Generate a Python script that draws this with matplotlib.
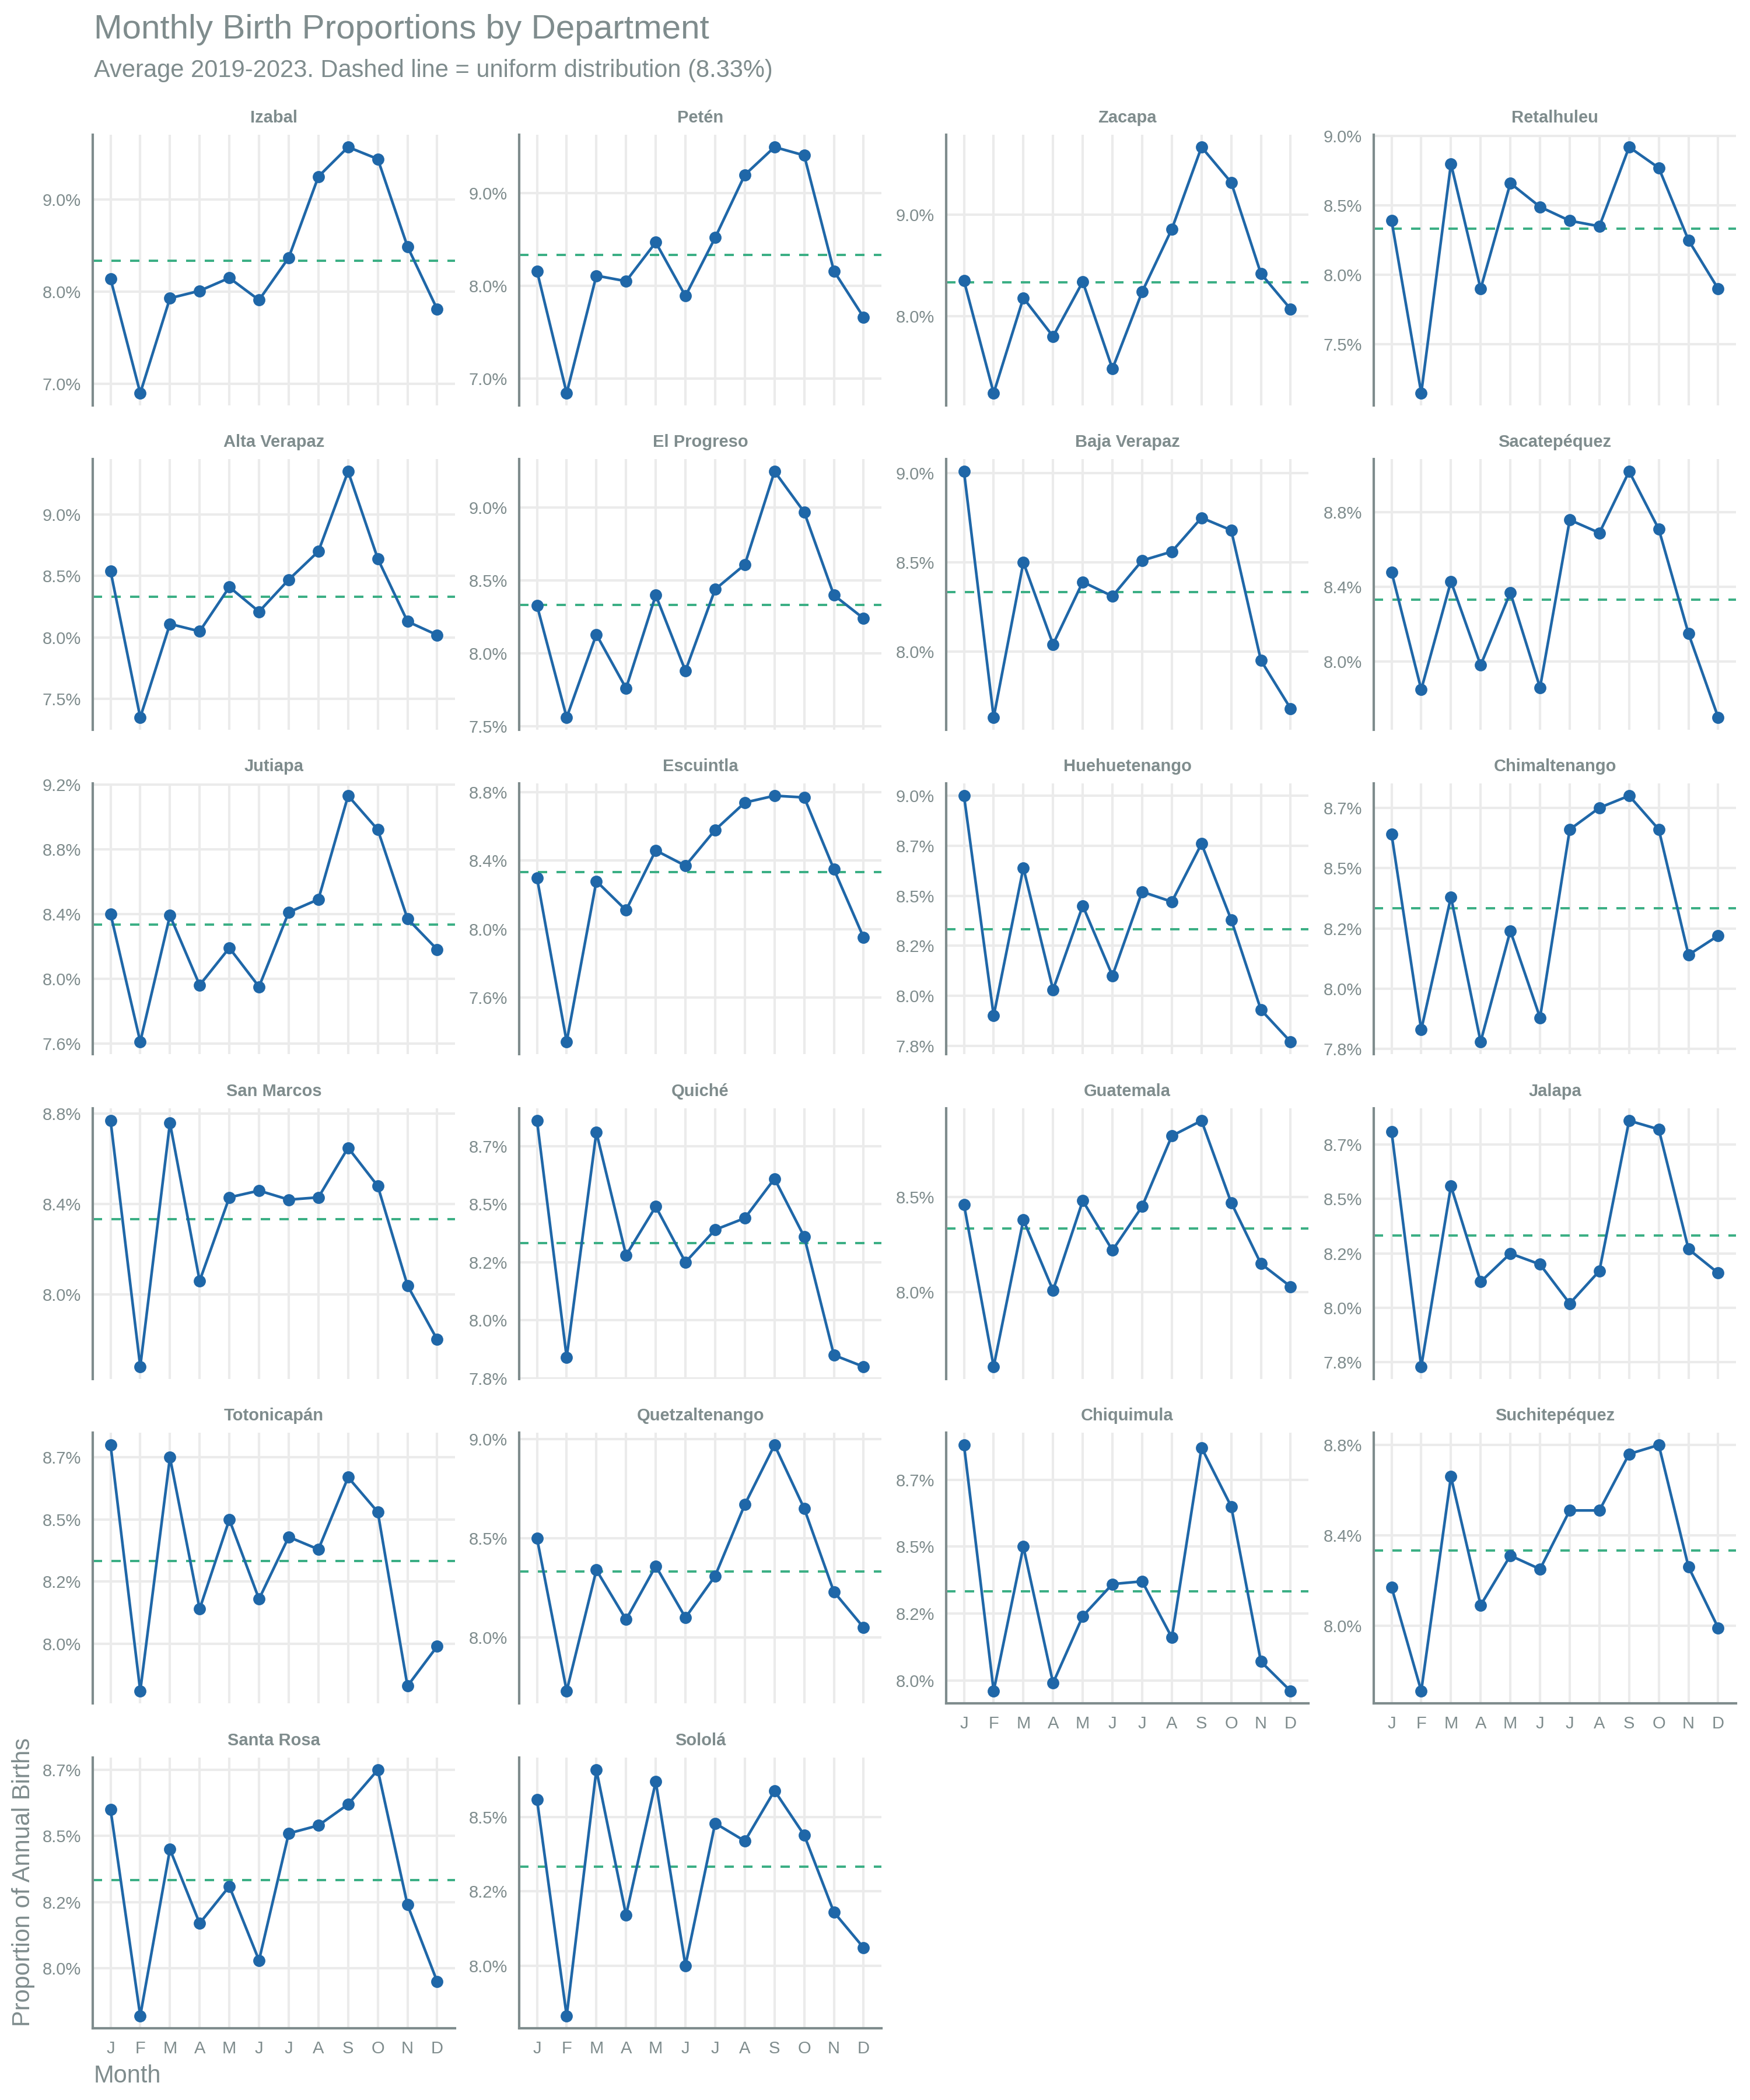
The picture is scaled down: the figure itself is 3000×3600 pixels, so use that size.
import matplotlib
matplotlib.use('Agg')
import matplotlib.pyplot as plt

plt.rcParams['font.family'] = ['Liberation Sans', 'DejaVu Sans']

months = ['J', 'F', 'M', 'A', 'M', 'J', 'J', 'A', 'S', 'O', 'N', 'D']

departments = ['Izabal', 'Petén', 'Zacapa', 'Retalhuleu',
               'Alta Verapaz', 'El Progreso', 'Baja Verapaz', 'Sacatepéquez',
               'Jutiapa', 'Escuintla', 'Huehuetenango', 'Chimaltenango',
               'San Marcos', 'Quiché', 'Guatemala', 'Jalapa',
               'Totonicapán', 'Quetzaltenango', 'Chiquimula', 'Suchitepéquez',
               'Santa Rosa', 'Sololá']

# monthly share of annual births (%), average 2019-2023
izabal = [8.14, 6.90, 7.93, 8.01, 8.15, 7.91, 8.37, 9.25, 9.57, 9.44, 8.49, 7.81]
peten = [8.16, 6.84, 8.11, 8.05, 8.47, 7.89, 8.52, 9.20, 9.50, 9.41, 8.16, 7.66]
zacapa = [8.35, 7.24, 8.18, 7.80, 8.34, 7.48, 8.24, 8.86, 9.67, 9.32, 8.42, 8.07]
retalhuleu = [8.39, 7.15, 8.80, 7.90, 8.66, 8.49, 8.39, 8.35, 8.92, 8.77, 8.25, 7.90]
alta_verapaz = [8.54, 7.35, 8.11, 8.05, 8.41, 8.21, 8.47, 8.70, 9.35, 8.64, 8.13, 8.02]
el_progreso = [8.33, 7.56, 8.13, 7.76, 8.40, 7.88, 8.44, 8.61, 9.25, 8.97, 8.40, 8.24]
baja_verapaz = [9.01, 7.63, 8.50, 8.04, 8.39, 8.31, 8.51, 8.56, 8.75, 8.68, 7.95, 7.68]
sacatepequez = [8.48, 7.85, 8.43, 7.98, 8.37, 7.86, 8.76, 8.69, 9.02, 8.71, 8.15, 7.70]
jutiapa = [8.40, 7.61, 8.39, 7.96, 8.19, 7.95, 8.41, 8.49, 9.13, 8.92, 8.37, 8.18]
escuintla = [8.30, 7.34, 8.28, 8.11, 8.46, 8.37, 8.58, 8.74, 8.78, 8.77, 8.35, 7.95]
huehuetenango = [9.00, 7.90, 8.64, 8.03, 8.45, 8.10, 8.52, 8.47, 8.76, 8.38, 7.93, 7.77]
chimaltenango = [8.64, 7.83, 8.38, 7.78, 8.24, 7.88, 8.66, 8.75, 8.80, 8.66, 8.14, 8.22]
san_marcos = [8.77, 7.68, 8.76, 8.06, 8.43, 8.46, 8.42, 8.43, 8.65, 8.48, 8.04, 7.80]
quiche = [8.86, 7.84, 8.81, 8.28, 8.49, 8.25, 8.39, 8.44, 8.61, 8.36, 7.85, 7.80]
guatemala = [8.46, 7.61, 8.38, 8.01, 8.48, 8.22, 8.45, 8.82, 8.90, 8.47, 8.15, 8.03]
jalapa = [8.81, 7.73, 8.56, 8.12, 8.25, 8.20, 8.02, 8.17, 8.86, 8.82, 8.27, 8.16]
totonicapan = [8.80, 7.81, 8.75, 8.14, 8.50, 8.18, 8.43, 8.38, 8.67, 8.53, 7.83, 7.99]
quetzaltenango = [8.50, 7.73, 8.34, 8.09, 8.36, 8.10, 8.31, 8.67, 8.97, 8.65, 8.23, 8.05]
chiquimula = [8.88, 7.96, 8.50, 7.99, 8.24, 8.36, 8.37, 8.16, 8.87, 8.65, 8.07, 7.96]
suchitepequez = [8.17, 7.71, 8.66, 8.09, 8.31, 8.25, 8.51, 8.51, 8.76, 8.80, 8.26, 7.99]
santa_rosa = [8.60, 7.82, 8.45, 8.17, 8.31, 8.03, 8.51, 8.54, 8.62, 8.75, 8.24, 7.95]
solola = [8.56, 7.83, 8.66, 8.17, 8.62, 8.00, 8.48, 8.42, 8.59, 8.44, 8.18, 8.06]

births = [izabal, peten, zacapa, retalhuleu,
          alta_verapaz, el_progreso, baja_verapaz, sacatepequez,
          jutiapa, escuintla, huehuetenango, chimaltenango,
          san_marcos, quiche, guatemala, jalapa,
          totonicapan, quetzaltenango, chiquimula, suchitepequez,
          santa_rosa, solola]

# y breaks and their printed labels, panel by panel
y_breaks = [[7.0, 8.0, 9.0], [7.0, 8.0, 9.0], [8.0, 9.0], [7.5, 8.0, 8.5, 9.0],
            [7.5, 8.0, 8.5, 9.0], [7.5, 8.0, 8.5, 9.0], [8.0, 8.5, 9.0], [8.0, 8.4, 8.8],
            [7.6, 8.0, 8.4, 8.8, 9.2], [7.6, 8.0, 8.4, 8.8],
            [7.75, 8.0, 8.25, 8.5, 8.75, 9.0], [7.75, 8.0, 8.25, 8.5, 8.75],
            [8.0, 8.4, 8.8], [7.75, 8.0, 8.25, 8.5, 8.75], [8.0, 8.5], [7.75, 8.0, 8.25, 8.5, 8.75],
            [8.0, 8.25, 8.5, 8.75], [8.0, 8.5, 9.0], [8.0, 8.25, 8.5, 8.75], [8.0, 8.4, 8.8],
            [8.0, 8.25, 8.5, 8.75], [8.0, 8.25, 8.5]]
y_labels = [['7.0%', '8.0%', '9.0%'], ['7.0%', '8.0%', '9.0%'], ['8.0%', '9.0%'],
            ['7.5%', '8.0%', '8.5%', '9.0%'],
            ['7.5%', '8.0%', '8.5%', '9.0%'], ['7.5%', '8.0%', '8.5%', '9.0%'],
            ['8.0%', '8.5%', '9.0%'], ['8.0%', '8.4%', '8.8%'],
            ['7.6%', '8.0%', '8.4%', '8.8%', '9.2%'], ['7.6%', '8.0%', '8.4%', '8.8%'],
            ['7.8%', '8.0%', '8.2%', '8.5%', '8.7%', '9.0%'], ['7.8%', '8.0%', '8.2%', '8.5%', '8.7%'],
            ['8.0%', '8.4%', '8.8%'], ['7.8%', '8.0%', '8.2%', '8.5%', '8.7%'], ['8.0%', '8.5%'],
            ['7.8%', '8.0%', '8.2%', '8.5%', '8.7%'],
            ['8.0%', '8.2%', '8.5%', '8.7%'], ['8.0%', '8.5%', '9.0%'],
            ['8.0%', '8.2%', '8.5%', '8.7%'], ['8.0%', '8.4%', '8.8%'],
            ['8.0%', '8.2%', '8.5%', '8.7%'], ['8.0%', '8.2%', '8.5%']]

uniform = 100 / 12

text_grey = '#7F8C8D'
line_blue = '#1F67A8'
dash_green = '#3CAF85'
grid_grey = '#EBEBEB'

W, H = 3000, 3600
fig = plt.figure(figsize=(10, 12), dpi=300, facecolor='white')

col_left = [159, 890, 1622, 2355]
row_top = [231, 787, 1343, 1900, 2456, 3013]
pw, ph = 621, 464
x = list(range(1, 13))
n = len(departments)

for i, name in enumerate(departments):
    r, c = divmod(i, 4)
    ax = fig.add_axes([col_left[c] / W, 1 - (row_top[r] + ph) / H, pw / W, ph / H])
    vals = births[i]

    ax.axhline(uniform, color=dash_green, lw=0.96, dashes=(4, 4), zorder=2)
    ax.plot(x, vals, color=line_blue, lw=1.1, marker='o', ms=4, zorder=3)

    lo = min(vals + [uniform])
    hi = max(vals + [uniform])
    pad = (hi - lo) * 0.05
    ax.set_ylim(lo - pad, hi + pad)
    ax.set_xlim(0.4, 12.6)

    ax.set_yticks(y_breaks[i], y_labels[i])
    ax.set_xticks(x)
    bottom = i + 4 >= n
    if bottom:
        ax.set_xticklabels(months)
    else:
        ax.set_xticklabels([])

    ax.grid(True, color=grid_grey, lw=1.0)
    ax.set_axisbelow(True)
    for s in ['top', 'right']:
        ax.spines[s].set_visible(False)
    ax.spines['left'].set_color(text_grey)
    ax.spines['left'].set_linewidth(1.0)
    ax.spines['bottom'].set_visible(bottom)
    ax.spines['bottom'].set_color(text_grey)
    ax.spines['bottom'].set_linewidth(1.0)
    ax.tick_params(axis='both', length=0, labelsize=7, labelcolor=text_grey)
    ax.tick_params(axis='y', pad=4.8)
    ax.tick_params(axis='x', pad=5)

    ax.set_title(name, fontsize=7, fontweight='bold', color=text_grey, pad=5)

fig.text(161 / W, 1 - 66 / H, 'Monthly Birth Proportions by Department',
         fontsize=14, color=text_grey, va='baseline', ha='left')
fig.text(161 / W, 1 - 132 / H, 'Average 2019-2023. Dashed line = uniform distribution (8.33%)',
         fontsize=10, color=text_grey, va='baseline', ha='left')
fig.text(161 / W, 1 - 3570 / H, 'Month', fontsize=10, color=text_grey,
         va='baseline', ha='left')
fig.text(40 / W, 1 - 3474 / H, 'Proportion of Annual Births', fontsize=10,
         color=text_grey, rotation=90, va='bottom', ha='center')

fig.savefig('out.png', dpi=300, facecolor='white')
